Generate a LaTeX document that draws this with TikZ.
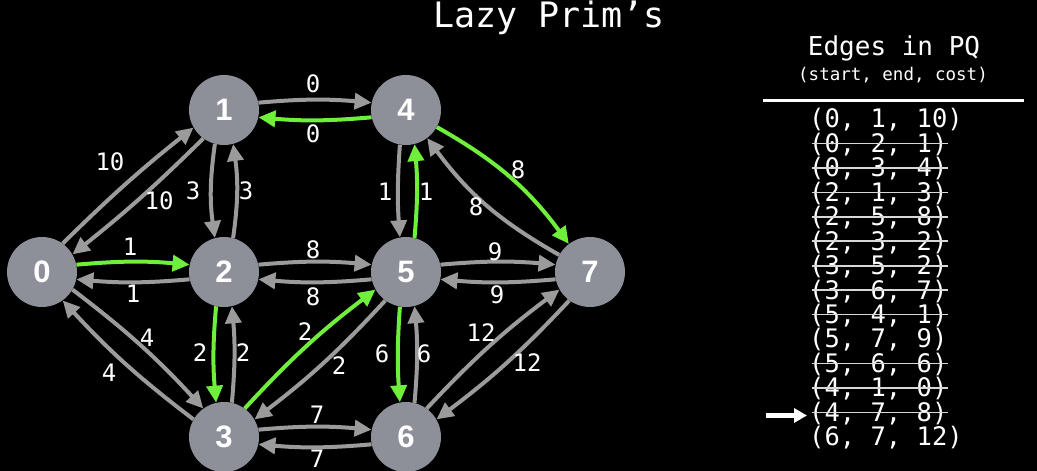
\documentclass[tikz,border=0pt]{standalone}
\usepackage{fontspec}
\setmonofont{DejaVu Sans Mono}
\newfontfamily\nodefont{Liberation Sans}
\usetikzlibrary{arrows.meta}
\definecolor{nodegray}{HTML}{8D9099}
\definecolor{edgegray}{HTML}{9B9B9B}
\definecolor{mstgreen}{HTML}{6FEF3B}
\definecolor{strikegray}{HTML}{D8D8D8}
\begin{document}
\begin{tikzpicture}[x=1pt,y=1pt,
  vert/.style={circle, fill=nodegray, minimum size=70pt, inner sep=0pt, text=white,
    font=\nodefont\bfseries\fontsize{31}{31}\selectfont},
  edg/.style={draw=edgegray, line width=4pt, -{Triangle[length=17pt,width=16pt]}},
  tree/.style={edg, draw=mstgreen},
  lab/.style={text=white, inner sep=0pt, font=\ttfamily\fontsize{24}{24}\selectfont},
  entry/.style={text=white, inner sep=0pt, anchor=west, font=\ttfamily\fontsize{25.5}{25.5}\selectfont},
  strike/.style={draw=strikegray, line width=1.6pt}]
\fill[black] (0,0) rectangle (1037,471);
\useasboundingbox (0,0) rectangle (1037,471);

% title
\node[text=white, anchor=base, inner sep=0pt, font=\ttfamily\fontsize{35}{35}\selectfont] (title) at (549,443) {Lazy Prim’s};

% vertices
\node[vert] (n0) at (42,199) {0};
\node[vert] (n1) at (224,361) {1};
\node[vert] (n2) at (224,199) {2};
\node[vert] (n3) at (224,34) {3};
\node[vert] (n4) at (406,361) {4};
\node[vert] (n5) at (406,199) {5};
\node[vert] (n6) at (406,34) {6};
\node[vert] (n7) at (590,199) {7};

% gray edges
\draw[edg] (n0.54) to[bend left=3] (n1.210);
\draw[edg] (n1.234) to[bend left=3] (n0.30);
\draw[edg] (n1.12) to[bend left=5] (n4.168);
\draw[edg] (n1.255) to[bend right=8] (n2.105);
\draw[edg] (n2.75) to[bend right=8] (n1.285);
\draw[edg] (n2.192) to[bend left=5] (n0.348);
\draw[edg] (n2.12) to[bend left=5] (n5.168);
\draw[edg] (n5.192) to[bend left=5] (n2.348);
\draw[edg] (n4.260) to[bend right=4] (n5.100);
\draw[edg] (n7.151) to[bend left=12] (n4.307);
\draw[edg] (n5.12) to[bend left=5] (n7.168);
\draw[edg] (n7.192) to[bend left=5] (n5.348);
\draw[edg] (n0.330) to[bend left=5] (n3.126);
\draw[edg] (n3.150) to[bend left=5] (n0.306);
\draw[edg] (n3.77) to[bend right=5] (n2.283);
\draw[edg] (n5.234) to[bend left=5] (n3.30);
\draw[edg] (n6.76) to[bend right=5] (n5.284);
\draw[edg] (n3.12) to[bend left=5] (n6.168);
\draw[edg] (n6.192) to[bend left=5] (n3.348);
\draw[edg] (n6.54) to[bend left=5] (n7.210);
\draw[edg] (n7.234) to[bend left=5] (n6.30);

% green (tree) edges
\draw[tree] (n4.192) to[bend left=5] (n1.348);
\draw[tree] (n0.12) to[bend left=5] (n2.168);
\draw[tree] (n5.76) to[bend right=5] (n4.284);
\draw[tree] (n4.331) to[bend left=12] (n7.127);
\draw[tree] (n2.257) to[bend right=5] (n3.103);
\draw[tree] (n3.54) to[bend left=5] (n5.210);
\draw[tree] (n5.260) to[bend right=4] (n6.100);

% edge labels
\node[lab] (l01a) at (110,309) {10};
\node[lab] (l01b) at (159,270) {10};
\node[lab] (l14a) at (313,387) {0};
\node[lab] (l14b) at (313,337) {0};
\node[lab] (l12a) at (193,280) {3};
\node[lab] (l12b) at (246,280) {3};
\node[lab] (l02a) at (130,224) {1};
\node[lab] (l02b) at (133,177) {1};
\node[lab] (l25a) at (313,221) {8};
\node[lab] (l25b) at (313,174) {8};
\node[lab] (l45a) at (385,279) {1};
\node[lab] (l45b) at (426,279) {1};
\node[lab] (l47a) at (518,301) {8};
\node[lab] (l47b) at (476,264) {8};
\node[lab] (l57a) at (495,219) {9};
\node[lab] (l57b) at (497,176) {9};
\node[lab] (l03a) at (147,133) {4};
\node[lab] (l03b) at (109,98) {4};
\node[lab] (l23a) at (200,118) {2};
\node[lab] (l23b) at (243,118) {2};
\node[lab] (l35a) at (305,139) {2};
\node[lab] (l35b) at (339,105) {2};
\node[lab] (l56a) at (382,117) {6};
\node[lab] (l56b) at (424,117) {6};
\node[lab] (l67a) at (481,138) {12};
\node[lab] (l67b) at (527,108) {12};
\node[lab] (l36a) at (317,56) {7};
\node[lab] (l36b) at (317,12.5) {7};

% right panel
\node[text=white, inner sep=0pt, font=\ttfamily\fontsize{26}{26}\selectfont] (hdr) at (894,423) {Edges in PQ};
\node[text=white, inner sep=0pt, font=\ttfamily\fontsize{17.5}{17.5}\selectfont] (sub) at (893,396) {(start, end, cost)};
\coordinate (ruleL) at (763,370);
\coordinate (ruleR) at (1024,370);
\draw[white, line width=3pt] (ruleL) -- (ruleR);

\node[entry] (e1) at (809,351.0) {(0, 1, 10)};
\node[entry] (e2) at (809,326.5) {(0, 2, 1)};
\node[entry] (e3) at (809,302.1) {(0, 3, 4)};
\node[entry] (e4) at (809,277.6) {(2, 1, 3)};
\node[entry] (e5) at (809,253.2) {(2, 5, 8)};
\node[entry] (e6) at (809,228.7) {(2, 3, 2)};
\node[entry] (e7) at (809,204.2) {(3, 5, 2)};
\node[entry] (e8) at (809,179.8) {(3, 6, 7)};
\node[entry] (e9) at (809,155.3) {(5, 4, 1)};
\node[entry] (e10) at (809,130.9) {(5, 7, 9)};
\node[entry] (e11) at (809,106.4) {(5, 6, 6)};
\node[entry] (e12) at (809,81.9) {(4, 1, 0)};
\node[entry] (e13) at (809,57.5) {(4, 7, 8)};
\node[entry] (e14) at (809,33.0) {(6, 7, 12)};

\foreach \k in {2,3,4,5,6,7,8,9,11,12,13}{
  \draw[strike] ([xshift=3pt,yshift=1pt]e\k.west) -- ([yshift=1pt]e\k.east);
}

\coordinate (ptr) at (766,55.5);
\draw[white, line width=4.5pt, -{Triangle[length=13pt,width=14pt]}] (ptr) -- ([xshift=-2pt,yshift=-2pt]e13.west);
\end{tikzpicture}
\end{document}
